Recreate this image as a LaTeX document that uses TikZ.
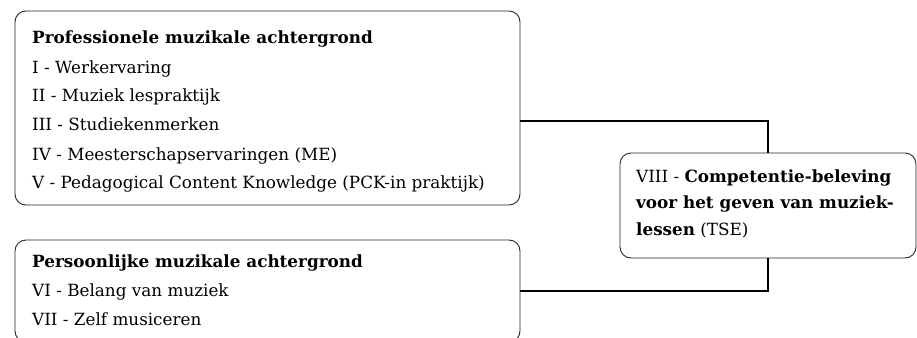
\documentclass[tikz,border=0pt]{standalone}
\usepackage{fontspec}
\setmainfont{DejaVu Serif}
\usetikzlibrary{positioning}
\newcommand{\lines}[1]{\begin{tabular}[t]{@{}l@{}}#1\end{tabular}}

\begin{document}
\begin{tikzpicture}[x=1pt,y=-1pt]
\tikzstyle{box}=[rectangle, draw=black!85, line width=0.9pt, rounded corners=11pt, inner sep=0pt]
\tikzstyle{txt}=[anchor=base west, inner sep=0pt, font=\fontsize{16.8}{29}\selectfont]
\tikzstyle{link}=[line width=2.2pt]
\clip (0,0) rectangle (917,337);

\node[box, minimum width=505pt, minimum height=194pt] (prof) at (267.5,108) {};
\node[box, minimum width=505pt, minimum height=102pt] (pers) at (267.5,291) {};
\node[box, minimum width=296pt, minimum height=105pt] (tse) at (768,205.5) {};

\node[txt] (proftxt) at (32,44) {\lines{\textbf{Professionele muzikale achtergrond}\\
	I - Werkervaring\\
	II - Muziek lespraktijk\\
	III - Studiekenmerken\\
	IV - Meesterschapservaringen (ME)\\
	V - Pedagogical Content Knowledge (PCK-in praktijk)}};
\node[txt] (perstxt) at (32,267) {\lines{\textbf{Persoonlijke muzikale achtergrond}\\
	VI - Belang van muziek\\
	VII - Zelf musiceren}};
\node[txt, font=\fontsize{16.8}{26.5}\selectfont] (tsetxt) at (636,182) {\lines{VIII - \textbf{Competentie-beleving}\\
	\textbf{voor het geven van muziek-}\\
	\textbf{lessen} (TSE)}};

\draw[link] ([yshift=-13pt]prof.east) -| (tse.north);
\draw[link] (tse.south) |- (pers.east);
\end{tikzpicture}
\end{document}
